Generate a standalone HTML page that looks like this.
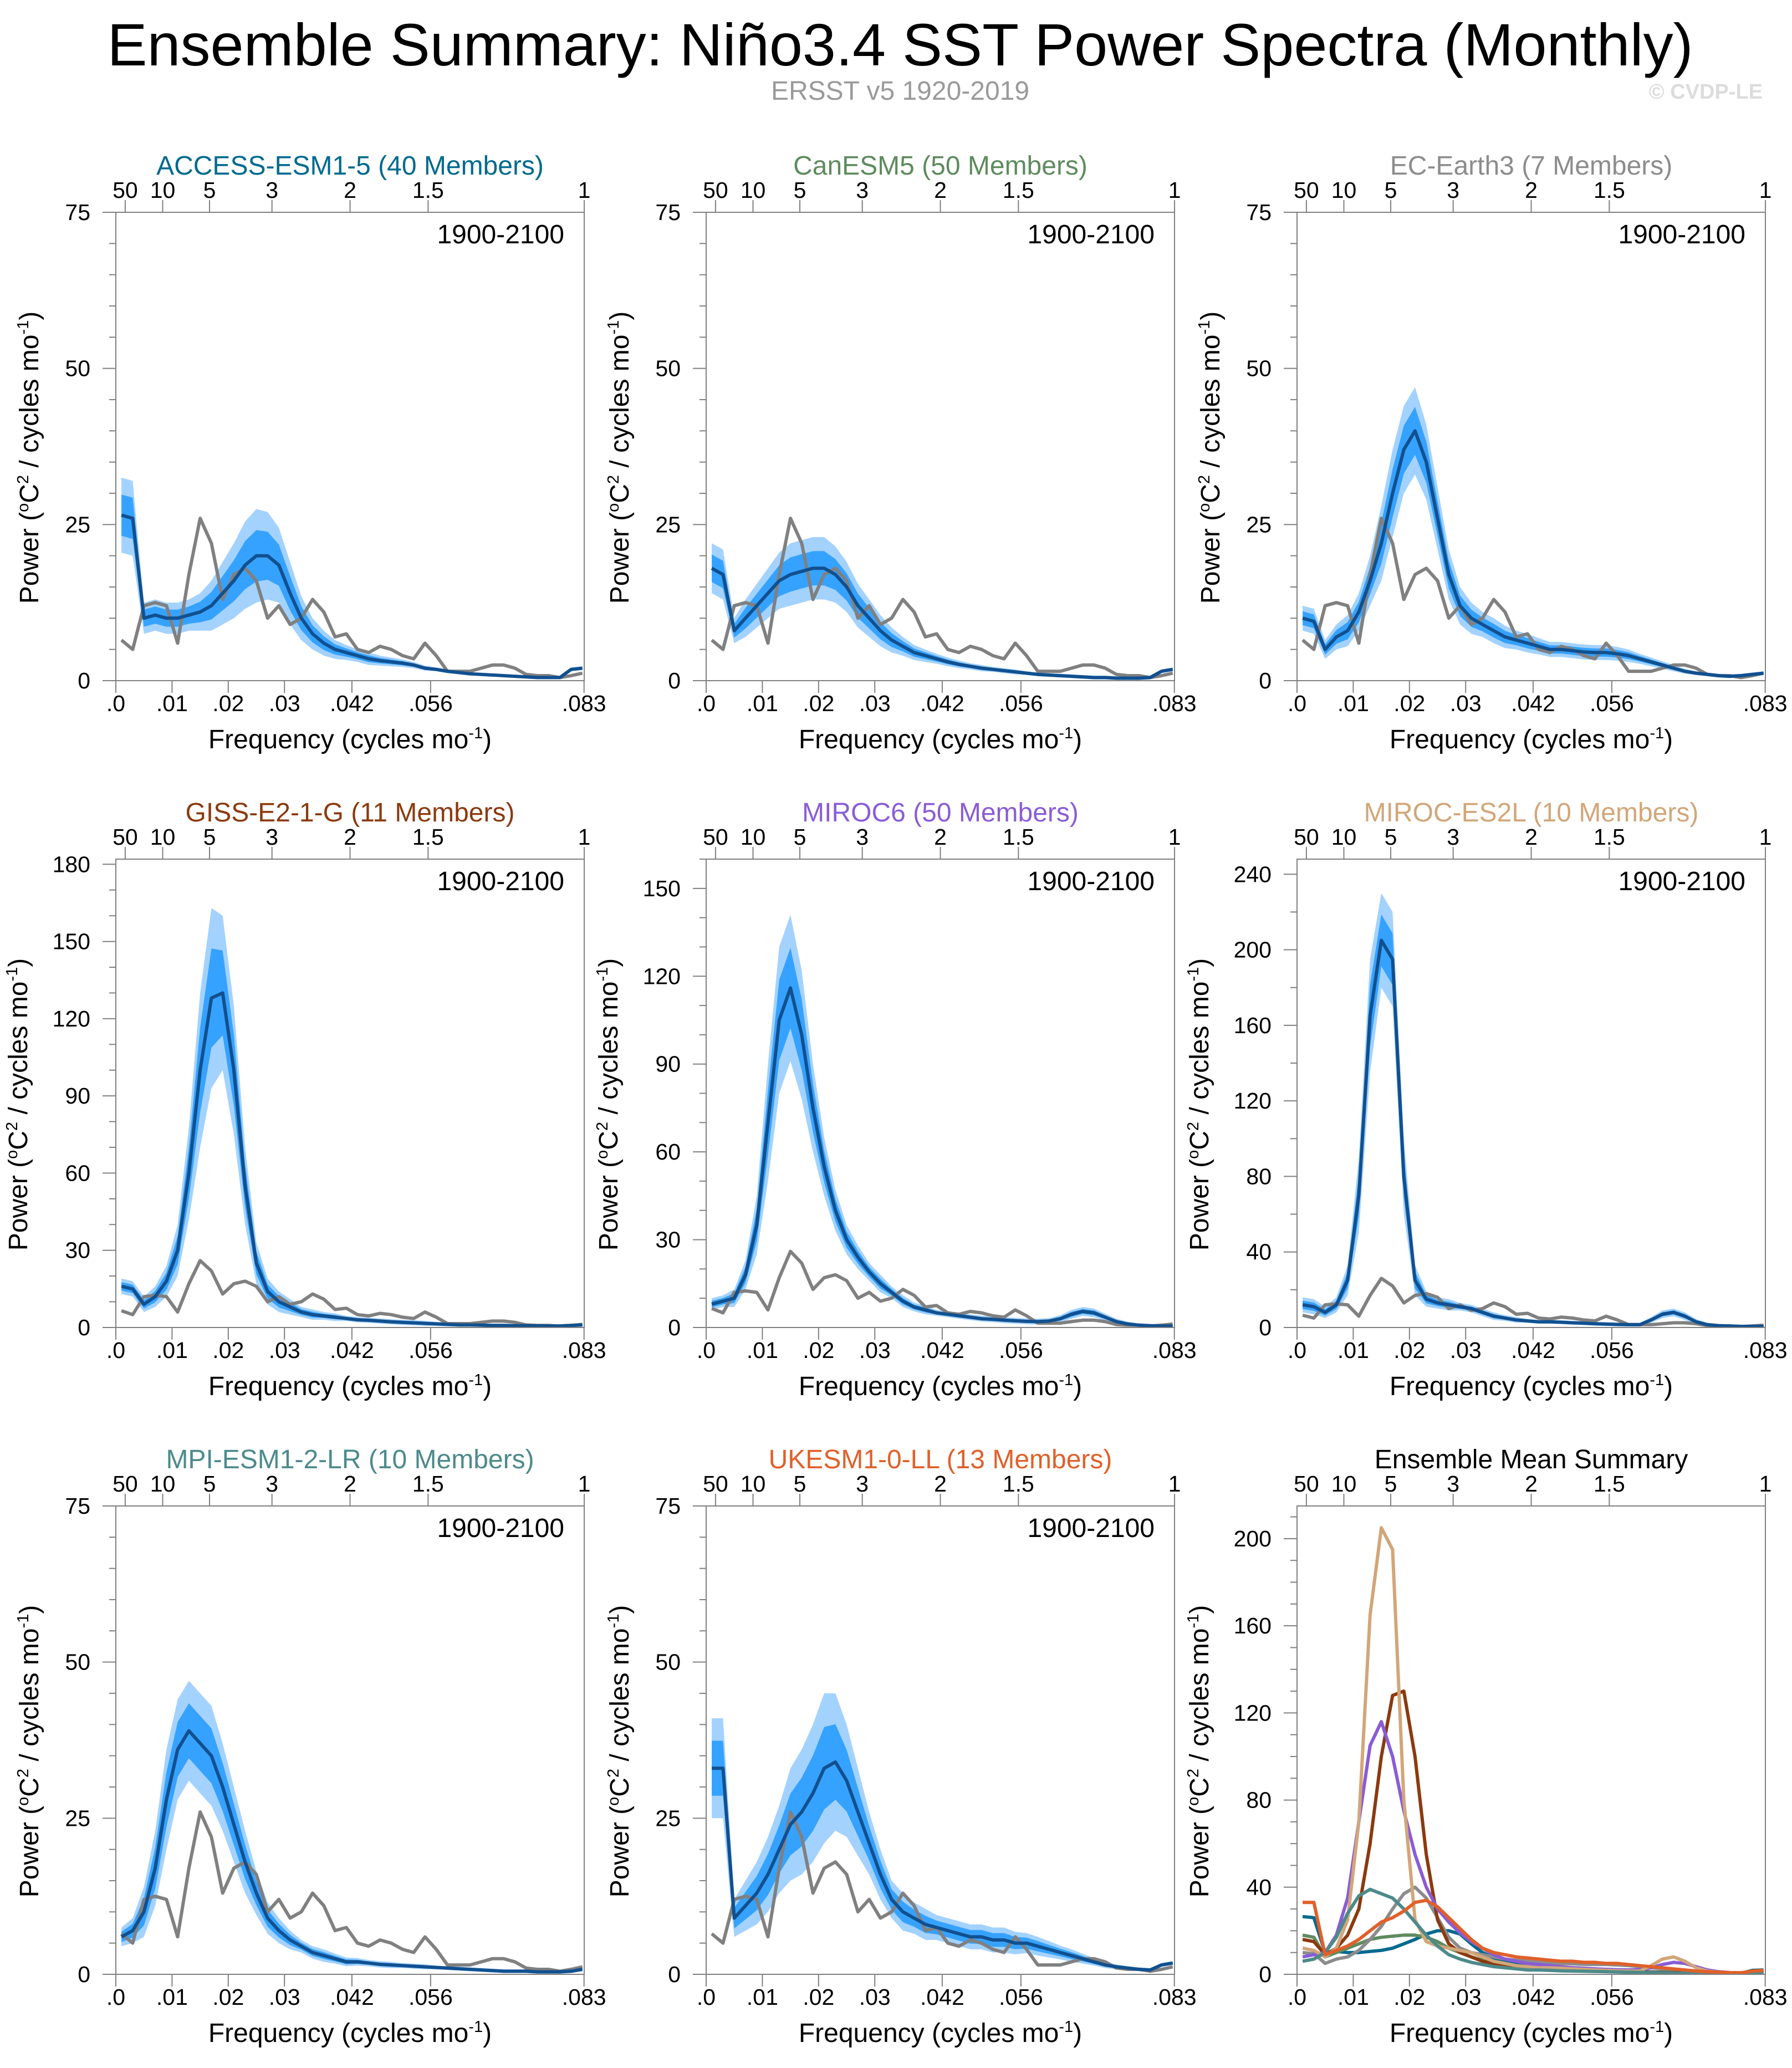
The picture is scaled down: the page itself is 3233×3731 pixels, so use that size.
<!DOCTYPE html>
<html><head><meta charset="utf-8"><style>
html,body{margin:0;padding:0;background:#fff;}
svg{display:block;font-family:"Liberation Sans",Arial,sans-serif;}
</style></head><body>
<svg id="chart" width="3233" height="3731" viewBox="0 0 3233 3731" xmlns="http://www.w3.org/2000/svg">
<text x="1624" y="118" font-size="108" text-anchor="middle" fill="#000">Ensemble Summary: Niño3.4 SST Power Spectra (Monthly)</text>
<text x="1624" y="180" font-size="48" text-anchor="middle" fill="#9a9a9a">ERSST v5 1920-2019</text>
<text x="3180" y="178" font-size="38" font-weight="bold" text-anchor="end" fill="#dcdcdc">© CVDP-LE</text>
</svg>
<script>
const freqs=[.001,.003,.005,.007,.009,.011,.013,.015,.017,.019,.021,.023,.025,.027,.029,.031,.033,.035,.037,.039,.041,.043,.045,.047,.049,.051,.053,.055,.057,.059,.061,.063,.065,.067,.069,.071,.073,.075,.077,.079,.081,.083];
const obsValues=[6.5,5,12,12.5,12,6,17,26,22,13,17,18,16,10,12,9,10,13,11,7,7.5,5,4.5,5.5,5,4,3.5,6,4,1.5,1.5,1.5,2,2.5,2.5,2,1,0.8,0.8,0.5,0.8,1.2];
const accessMean=[26.5,26,10,10.5,10,10,10.5,11,12,14,16,18.5,20,20,18.5,14,10,7.5,6,5,4.5,4,3.5,3.2,3,2.8,2.5,2,1.8,1.5,1.3,1.1,1,0.9,0.8,0.7,0.6,0.5,0.5,0.5,1.8,2];
const accessSpread=[6,6,2.5,2.5,2.5,2.5,2.5,3,4,5,6,7,7.5,7,6,5,3.5,2.5,2,1.5,1.2,1,1,0.8,0.7,0.6,0.5,0.4,0.3,0.3,0.2,0.2,0.2,0.2,0.2,0.2,0.2,0.2,0.2,0.2,0.3,0.3];
const canMean=[18,17,8,10,12,14,16,17,17.5,18,18,17,15,12,10,8,6.5,5.5,4.5,4,3.5,3,2.6,2.3,2,1.8,1.6,1.4,1.2,1,0.9,0.8,0.7,0.6,0.5,0.5,0.4,0.4,0.4,0.5,1.5,1.8];
const canSpread=[4,4,2,3,3.5,4,4.5,5,5,5,5,4.5,4,3.5,3,2.5,2,1.5,1.2,1,0.8,0.7,0.6,0.5,0.5,0.4,0.4,0.4,0.3,0.3,0.3,0.3,0.3,0.3,0.3,0.3,0.3,0.3,0.3,0.3,0.3,0.3];
const ecMean=[10,9.5,5,7,8,11,16,22,30,37,40,35,26,17,12,10,9,8,7,6.5,6,5.5,5,5,4.8,4.6,4.5,4.5,4.3,4,3.5,3,2.5,2,1.5,1.2,1,0.8,0.7,0.8,1,1.2];
const ecSpread=[2,2,1.5,2,2.5,3,4,6,7,7,7,6,5,4,3,2.5,2,2,1.8,1.5,1.5,1.3,1.2,1.2,1.2,1.2,1.2,1.2,1.1,1,0.8,0.7,0.6,0.5,0.4,0.3,0.3,0.3,0.3,0.3,0.3,0.3];
const gissMean=[16,15,9,12,18,30,60,100,128,130,100,55,25,14,10,8,6,5,4.5,4,3.5,3,2.8,2.5,2.2,2,1.8,1.6,1.4,1.2,1,1,0.9,0.8,0.8,0.7,0.7,0.6,0.6,0.6,0.8,1];
const gissSpread=[3,3,3,4,6,10,18,30,35,30,25,15,8,5,4,3,2,2,1.5,1.5,1,1,1,1,1,1,1,1,0.8,0.8,0.6,0.6,0.5,0.5,0.5,0.5,0.5,0.5,0.5,0.5,0.5,0.5];
const miroc6Mean=[8,9,10,18,35,70,105,116,100,75,55,40,30,24,19,15,12,9,7,6,5,4.5,4,3.5,3,2.8,2.5,2.3,2.1,2,2.2,3,4.5,5.5,5,3.5,2,1.2,0.8,0.6,0.5,0.5];
const miroc6Spread=[2,2,3,5,10,20,25,25,22,15,10,7,5,4,3,3,2,2,1.5,1.5,1,1,1,1,1,1,1,1,1,1,1,1.2,1.5,1.5,1.5,1.2,1,0.8,0.6,0.5,0.5,0.5];
const mirocEsMean=[12,11,8,12,25,70,165,205,195,80,25,15,13,12,11,10,8,6,5,4,3.5,3,3,2.8,2.5,2.3,2,1.8,1.6,1.5,1.5,4,7,8,6,3,1.5,1,0.8,0.6,0.6,0.6];
const mirocEsSpread=[4,4,3,4,8,20,30,25,25,20,8,4,3,3,2,2,2,2,1.5,1.5,1,1,1,1,1,1,1,1,1,1,1,1.5,2,2,2,1.5,1,0.8,0.6,0.5,0.5,0.5];
const mpiMean=[6,7,10,17,28,36,39,37,35,30,24,18,13,9,7,5.5,4.5,3.5,3,2.5,2,2,1.8,1.6,1.5,1.4,1.3,1.2,1.1,1,0.9,0.8,0.7,0.6,0.5,0.5,0.5,0.4,0.4,0.4,0.5,0.8];
const mpiSpread=[1.5,2,4,6,8,8,8,8,8,7,6,5,3.5,2.5,2,1.5,1,1,1,0.8,0.7,0.6,0.5,0.5,0.5,0.4,0.4,0.4,0.3,0.3,0.3,0.3,0.3,0.3,0.3,0.3,0.3,0.3,0.3,0.3,0.3,0.3];
const ukMean=[33,33,9,11,13,16,20,24,26,29,33,34,31,26,21,16,12,10,9,8,7.5,7,6.5,6,6,5.5,5.5,5,5,4.5,4,3.5,3,2.5,2,1.5,1.2,1,0.8,0.7,1.5,1.8];
const ukSpread=[8,8,3,4,5,6,7,9,10,11,12,11,9,7,5,4,3,3,2.5,2.5,2,2,2,2,2,2,2,1.8,1.6,1.5,1.3,1.1,1,0.8,0.6,0.5,0.4,0.3,0.3,0.3,0.3,0.3];
const xTickValues=[0,.01,.02,.03,.042,.056,.0833];
const xTickLabels=[".0",".01",".02",".03",".042",".056",".083"];
const periodTickLabels=["50","10","5","3","2","1.5","1"];
const periodTickYears=[50,10,5,3,2,1.5,1];

const NS="http://www.w3.org/2000/svg";
const svg=document.getElementById('chart');
function mk(tag,attrs,parent){const e=document.createElementNS(NS,tag);for(const k in attrs)e.setAttribute(k,attrs[k]);(parent||svg).appendChild(e);return e;}
const L=[209,1274,2340],T=[383,1550,2717],W=845,H=845,XMAX=0.08333;
const models=[
 {name:"ACCESS-ESM1-5 (40 Members)",color:"#006a8e",mean:accessMean,spread:accessSpread,ymax:75,major:25,minor:5,slug:"access-esm1-5"},
 {name:"CanESM5 (50 Members)",color:"#5e8b5e",mean:canMean,spread:canSpread,ymax:75,major:25,minor:5,slug:"canesm5"},
 {name:"EC-Earth3 (7 Members)",color:"#8c8c8c",mean:ecMean,spread:ecSpread,ymax:75,major:25,minor:5,slug:"ec-earth3"},
 {name:"GISS-E2-1-G (11 Members)",color:"#8b3a0f",mean:gissMean,spread:gissSpread,ymax:182,major:30,minor:10,slug:"giss-e2-1-g"},
 {name:"MIROC6 (50 Members)",color:"#8a5cd6",mean:miroc6Mean,spread:miroc6Spread,ymax:160,major:30,minor:10,slug:"miroc6"},
 {name:"MIROC-ES2L (10 Members)",color:"#d2a679",mean:mirocEsMean,spread:mirocEsSpread,ymax:248,major:40,minor:20,slug:"miroc-es2l"},
 {name:"MPI-ESM1-2-LR (10 Members)",color:"#4d8a8a",mean:mpiMean,spread:mpiSpread,ymax:75,major:25,minor:5,slug:"mpi-esm1-2-lr"},
 {name:"UKESM1-0-LL (13 Members)",color:"#e0602a",mean:ukMean,spread:ukSpread,ymax:75,major:25,minor:5,slug:"ukesm1-0-ll"}
];
function axes(g,x0,y0,ymax,major,minor,title,titleColor,slug){
  const xs=v=>x0+v/XMAX*W, ys=v=>y0+H-v/ymax*H;
  const t=mk('text',{x:x0+W/2,y:y0-68,'font-size':48,'text-anchor':'middle',fill:titleColor},g);t.textContent=title;
  
  
  const fr=mk('rect',{x:x0,y:y0,width:W,height:H,fill:'none',stroke:'#808080','stroke-width':2},g);
  
  
  for(let v=0;v<=ymax+0.001;v+=minor){const isM=Math.abs(v/major-Math.round(v/major))<1e-6;
    mk('line',{x1:x0,x2:x0-(isM?24:12),y1:ys(v),y2:ys(v),stroke:'#808080','stroke-width':2},g);
    if(isM){const l=mk('text',{x:x0-46,y:ys(v)+14,'font-size':41,'text-anchor':'end'},g);l.textContent=v;
      
      }}
  xTickValues.forEach((v,i)=>{mk('line',{x1:xs(v),x2:xs(v),y1:y0+H,y2:y0+H+22,stroke:'#808080','stroke-width':2},g);
    const l=mk('text',{x:xs(v),y:y0+H+55,'font-size':41,'text-anchor':'middle'},g);l.textContent=xTickLabels[i];
    
    });
  periodTickYears.forEach((p,i)=>{const v=1/(12*p);mk('line',{x1:xs(v),x2:xs(v),y1:y0,y2:y0-22,stroke:'#808080','stroke-width':2},g);
    const l=mk('text',{x:xs(v),y:y0-26,'font-size':41,'text-anchor':'middle'},g);l.textContent=periodTickLabels[i];
    
    });
  const xt=mk('text',{x:x0+W/2,y:y0+H+122,'font-size':48,'text-anchor':'middle'},g);
  xt.innerHTML='Frequency (cycles mo<tspan dy="-18" font-size="29">-1</tspan><tspan dy="18">)</tspan>';
  
  
  const yx=x0-(ymax>100?160:140), yc=y0+H/2+20;
  const yt=mk('text',{x:yx,y:yc,'font-size':48,'text-anchor':'middle',transform:`rotate(-90 ${yx} ${yc})`},g);
  yt.innerHTML='Power (<tspan dy="-18" font-size="29">o</tspan><tspan dy="18">C</tspan><tspan dy="-18" font-size="29">2</tspan><tspan dy="18"> / cycles mo</tspan><tspan dy="-18" font-size="29">-1</tspan><tspan dy="18">)</tspan>';
  
  
  return {xs,ys};
}
function linePath(xs,ys,vals){return vals.map((v,i)=>(i?'L':'M')+xs(freqs[i]).toFixed(1)+','+ys(v).toFixed(1)).join('');}
function bandPath(xs,ys,mean,spread,k){
  let d=mean.map((v,i)=>(i?'L':'M')+xs(freqs[i]).toFixed(1)+','+ys(v+spread[i]*k).toFixed(1)).join('');
  for(let i=mean.length-1;i>=0;i--)d+='L'+xs(freqs[i]).toFixed(1)+','+ys(Math.max(0,mean[i]-spread[i]*k)).toFixed(1);
  return d+'Z';
}
models.forEach((m,idx)=>{
  const x0=L[idx%3],y0=T[Math.floor(idx/3)];
  const g=mk('g',{});
  
  
  const clip=mk('clipPath',{id:'c'+idx},g);mk('rect',{x:x0,y:y0,width:W,height:H},clip);
  const pg=mk('g',{'clip-path':`url(#c${idx})`},g);
  const a={xs:v=>x0+v/XMAX*W,ys:v=>y0+H-v/m.ymax*H};
  const b1=mk('path',{d:bandPath(a.xs,a.ys,m.mean,m.spread,1),fill:'#a3d2ff'},pg);
  
  
  const b2=mk('path',{d:bandPath(a.xs,a.ys,m.mean,m.spread,0.55),fill:'#36a2ff'},pg);
  
  
  const ob=mk('path',{d:linePath(a.xs,a.ys,obsValues),fill:'none',stroke:'#808080','stroke-width':6,'stroke-linejoin':'round'},pg);
  
  
  const ml=mk('path',{d:linePath(a.xs,a.ys,m.mean),fill:'none',stroke:'#11508f','stroke-width':6,'stroke-linejoin':'round'},pg);
  
  
  axes(g,x0,y0,m.ymax,m.major,m.minor,m.name,m.color,m.slug);
  const yr=mk('text',{x:x0+W-36,y:y0+56,'font-size':48,'text-anchor':'end'},g);yr.textContent='1900-2100';
  
  
});
(function(){
  const x0=L[2],y0=T[2];
  const g=mk('g',{});
  
  
  const clip=mk('clipPath',{id:'cs'},g);mk('rect',{x:x0,y:y0,width:W,height:H},clip);
  const pg=mk('g',{'clip-path':'url(#cs)'},g);
  const ymax=215,xs=v=>x0+v/XMAX*W,ys=v=>y0+H-v/ymax*H;
  models.forEach(m=>{
    const p=mk('path',{d:linePath(xs,ys,m.mean),fill:'none',stroke:m.color,'stroke-width':6,'stroke-linejoin':'round'},pg);
    
    
  });
  axes(g,x0,y0,ymax,40,10,'Ensemble Mean Summary','#000','summary');
})();
</script>
</body></html>
